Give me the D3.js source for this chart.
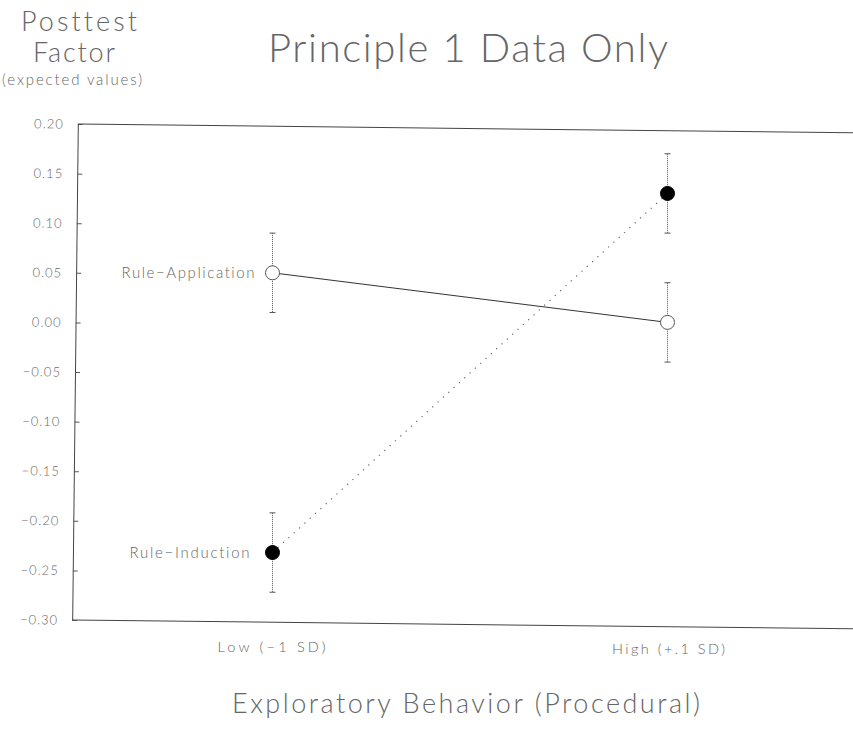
<!DOCTYPE html>
<html>
<head>
<meta charset="utf-8">
<script src="https://cdn.jsdelivr.net/npm/d3@7"></script>
<style>
  html, body { margin: 0; padding: 0; background: #fff; }
  svg { display: block; }
  text { font-family: "Lato", "DejaVu Sans", sans-serif; font-weight: 300; fill: #666;
         font-variant-ligatures: none; font-feature-settings: "liga" 0; }
</style>
</head>
<body>
<svg id="chart" width="853" height="730"></svg>
<script>
// Exploratory behaviour levels on the x axis
const levels = ["Low (\u22121 SD)", "High (+.1 SD)"];
// Group names
const groups = ["Rule\u2212Application", "Rule\u2212Induction"];
// Expected posttest factor values per group, one per level
const ruleApplication = [0.05, 0.00];
const ruleInduction = [-0.232, 0.13];
// Half-width of the error bars per group and level
const errApplication = [0.04, 0.04];
const errInduction = [0.04, 0.04];
// Y tick values
const yTicks = [0.20, 0.15, 0.10, 0.05, 0.00, -0.05, -0.10, -0.15, -0.20, -0.25, -0.30];

const svg = d3.select("#chart");

const plotLeft = 75, plotRight = 865, plotTop = 124, plotBottom = 620;

const x = d3.scalePoint().domain(levels).range([plotLeft, plotRight]).padding(0.5);
const y = d3.scaleLinear().domain([-0.30, 0.20]).range([plotBottom, plotTop]);

// Frame: left axis plus top and bottom rules, slightly tilted as in the plotter output
const frame = svg.append("g")
  .attr("transform", `rotate(0.65, ${plotLeft}, ${(plotTop + plotBottom) / 2})`);

frame.append("line")
  .attr("x1", plotLeft).attr("x2", plotRight)
  .attr("y1", y(0.20)).attr("y2", y(0.20))
  .attr("stroke", "#444").attr("stroke-width", 1);
frame.append("line")
  .attr("x1", plotLeft).attr("x2", plotRight)
  .attr("y1", y(-0.30)).attr("y2", y(-0.30))
  .attr("stroke", "#444").attr("stroke-width", 1);

const yAxis = d3.axisLeft(y)
  .tickValues(yTicks)
  .tickFormat(d3.format(".2f"))
  .tickSizeInner(-5)
  .tickSizeOuter(0)
  .tickPadding(14);

const ya = frame.append("g")
  .attr("transform", `translate(${plotLeft},0)`)
  .call(yAxis);
ya.select(".domain").attr("stroke", "#444");
ya.selectAll(".tick line").attr("stroke", "#555");
ya.selectAll(".tick text")
  .attr("font-size", 13)
  .attr("letter-spacing", "1px")
  .style("font-family", "Lato, 'DejaVu Sans', sans-serif")
  .style("font-weight", 300)
  .attr("fill", "#777");

// Level labels under the frame
const levelWidths = [108, 113];
svg.selectAll(".level")
  .data(levels)
  .enter().append("text")
  .attr("class", "level")
  .attr("x", (d, i) => x(d) - levelWidths[i] / 2 + (i === 0 ? -1 : 1))
  .attr("y", (d, i) => i === 0 ? 652 : 654)
  .attr("font-size", 14.5)
  .attr("textLength", (d, i) => levelWidths[i])
  .attr("lengthAdjust", "spacing")
  .text(d => d);

const series = [
  { name: groups[0], values: ruleApplication, err: errApplication, fill: "#fff", dash: null },
  { name: groups[1], values: ruleInduction, err: errInduction, fill: "#000", dash: "1.2,6" }
];

// Connecting lines
series.forEach(s => {
  const pts = levels.map((l, i) => [x(l), y(s.values[i])]);
  svg.append("path")
    .attr("d", d3.line()(pts))
    .attr("fill", "none")
    .attr("stroke", s.dash ? "#666" : "#333")
    .attr("stroke-width", s.dash ? 1.2 : 1)
    .attr("stroke-dasharray", s.dash);
});

// Error bars
series.forEach(s => {
  levels.forEach((l, i) => {
    const cx = x(l);
    const hi = y(s.values[i] + s.err[i]);
    const lo = y(s.values[i] - s.err[i]);
    const g = svg.append("g").attr("stroke", "#555").attr("stroke-width", 1);
    g.append("line").attr("x1", cx).attr("x2", cx).attr("y1", hi).attr("y2", lo)
      .attr("stroke-dasharray", "1,1");
    g.append("line").attr("x1", cx - 3).attr("x2", cx + 3).attr("y1", hi).attr("y2", hi);
    g.append("line").attr("x1", cx - 3).attr("x2", cx + 3).attr("y1", lo).attr("y2", lo);
  });
});

// Markers
series.forEach(s => {
  levels.forEach((l, i) => {
    svg.append("circle")
      .attr("cx", x(l)).attr("cy", y(s.values[i]))
      .attr("r", 7)
      .attr("fill", s.fill)
      .attr("stroke", s.fill === "#000" ? "#000" : "#555")
      .attr("stroke-width", 1);
  });
});

// Group labels beside the low-level markers
svg.append("text")
  .attr("x", x(levels[0]) - 151).attr("y", y(ruleApplication[0]) + 5)
  .attr("font-size", 15)
  .attr("textLength", 133).attr("lengthAdjust", "spacing")
  .text(groups[0]);
svg.append("text")
  .attr("x", x(levels[0]) - 143).attr("y", y(ruleInduction[0]) + 5)
  .attr("font-size", 15)
  .attr("textLength", 120).attr("lengthAdjust", "spacing")
  .text(groups[1]);

// Titles
svg.append("text").attr("x", 268).attr("y", 62)
  .attr("font-size", 40).attr("font-weight", 200)
  .attr("textLength", 400).attr("lengthAdjust", "spacing")
  .text("Principle 1 Data Only");

svg.append("text").attr("x", 21).attr("y", 31)
  .attr("font-size", 27).attr("font-weight", 200)
  .attr("textLength", 116).attr("lengthAdjust", "spacing")
  .text("Posttest");
svg.append("text").attr("x", 33).attr("y", 62)
  .attr("font-size", 27).attr("font-weight", 200)
  .attr("textLength", 82).attr("lengthAdjust", "spacing")
  .text("Factor");
svg.append("text").attr("x", 2).attr("y", 85)
  .attr("font-size", 15)
  .attr("textLength", 140).attr("lengthAdjust", "spacing")
  .text("(expected values)");

svg.append("text").attr("x", 232).attr("y", 713)
  .attr("font-size", 27).attr("font-weight", 200)
  .attr("textLength", 468).attr("lengthAdjust", "spacing")
  .text("Exploratory Behavior (Procedural)");
</script>
</body>
</html>
